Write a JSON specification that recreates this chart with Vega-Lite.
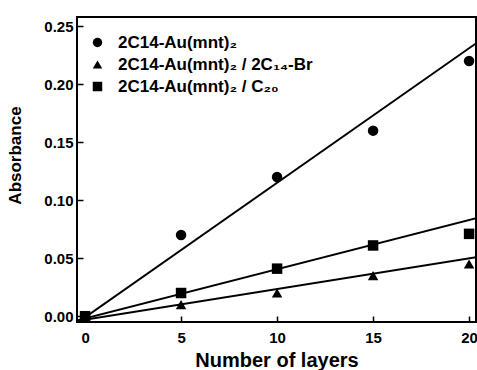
{
  "$schema": "https://vega.github.io/schema/vega-lite/v6.json",
  "width": 399,
  "height": 305,
  "autosize": "none",
  "padding": {"left": 77, "top": 17, "right": 1, "bottom": 48},
  "background": "white",
  "config": {
    "view": {"stroke": "black", "strokeWidth": 2},
    "font": "Liberation Sans",
    "axis": {
      "domain": false,
      "grid": false,
      "tickColor": "black",
      "tickWidth": 1.5,
      "labelColor": "black",
      "labelFont": "Liberation Sans",
      "labelFontWeight": "bold",
      "labelFontSize": 15,
      "titleFont": "Liberation Sans",
      "titleFontWeight": "bold",
      "titleColor": "black"
    }
  },
  "datasets": {
    "points": [
      {"series": "2C14-Au(mnt)₂", "layers": 0, "absorbance": 0.0},
      {"series": "2C14-Au(mnt)₂", "layers": 5, "absorbance": 0.07},
      {"series": "2C14-Au(mnt)₂", "layers": 10, "absorbance": 0.12},
      {"series": "2C14-Au(mnt)₂", "layers": 15, "absorbance": 0.16},
      {"series": "2C14-Au(mnt)₂", "layers": 20, "absorbance": 0.22},
      {"series": "2C14-Au(mnt)₂ / 2C₁₄-Br", "layers": 0, "absorbance": 0.0},
      {"series": "2C14-Au(mnt)₂ / 2C₁₄-Br", "layers": 5, "absorbance": 0.01},
      {"series": "2C14-Au(mnt)₂ / 2C₁₄-Br", "layers": 10, "absorbance": 0.02},
      {"series": "2C14-Au(mnt)₂ / 2C₁₄-Br", "layers": 15, "absorbance": 0.035},
      {"series": "2C14-Au(mnt)₂ / 2C₁₄-Br", "layers": 20, "absorbance": 0.045},
      {"series": "2C14-Au(mnt)₂ / C₂₀", "layers": 0, "absorbance": 0.0},
      {"series": "2C14-Au(mnt)₂ / C₂₀", "layers": 5, "absorbance": 0.02},
      {"series": "2C14-Au(mnt)₂ / C₂₀", "layers": 10, "absorbance": 0.041},
      {"series": "2C14-Au(mnt)₂ / C₂₀", "layers": 15, "absorbance": 0.061},
      {"series": "2C14-Au(mnt)₂ / C₂₀", "layers": 20, "absorbance": 0.071}
    ],
    "fits": [
      {"series": "a", "layers": -0.5, "absorbance": -0.0068},
      {"series": "a", "layers": 20.4, "absorbance": 0.2357},
      {"series": "b", "layers": -0.5, "absorbance": -0.0043},
      {"series": "b", "layers": 20.4, "absorbance": 0.051},
      {"series": "c", "layers": -0.5, "absorbance": -0.0041},
      {"series": "c", "layers": 20.4, "absorbance": 0.0847}
    ]
  },
  "layer": [
    {
      "data": {"name": "fits"},
      "mark": {"type": "line", "color": "black", "strokeWidth": 2, "clip": true},
      "encoding": {
        "x": {"field": "layers", "type": "quantitative", "scale": {"domain": [-0.42, 20.36], "nice": false, "zero": false},
              "axis": {"values": [0, 5, 10, 15, 20], "tickSize": -6, "labelPadding": 14, "title": "Number of layers", "titleFontSize": 20, "titlePadding": 5}},
        "y": {"field": "absorbance", "type": "quantitative", "scale": {"domain": [-0.005, 0.258], "nice": false, "zero": false},
              "axis": {"values": [0, 0.05, 0.1, 0.15, 0.2, 0.25], "format": ".2f", "tickSize": -6, "labelPadding": 10, "title": "Absorbance", "titleFontSize": 17, "titleX": -53, "titleY": 138}},
        "detail": {"field": "series"}
      }
    },
    {
      "data": {"name": "points"},
      "mark": {"type": "point", "filled": true, "opacity": 1, "size": 110, "clip": true},
      "encoding": {
        "x": {"field": "layers", "type": "quantitative"},
        "y": {"field": "absorbance", "type": "quantitative"},
        "shape": {
          "field": "series", "type": "nominal",
          "scale": {"domain": ["2C14-Au(mnt)₂", "2C14-Au(mnt)₂ / 2C₁₄-Br", "2C14-Au(mnt)₂ / C₂₀"], "range": ["circle", "triangle-up", "square"]},
          "legend": {
            "orient": "none", "legendX": 12, "legendY": 17, "title": null,
            "labelFont": "Liberation Sans", "labelFontWeight": "bold", "labelFontSize": 17, "labelColor": "black",
            "symbolFillColor": "black", "symbolStrokeColor": "black", "symbolSize": 90, "symbolType": "circle",
            "rowPadding": 4, "labelOffset": 12, "labelLimit": 400
          }
        },
        "color": {"value": "black"}
      }
    }
  ]
}
